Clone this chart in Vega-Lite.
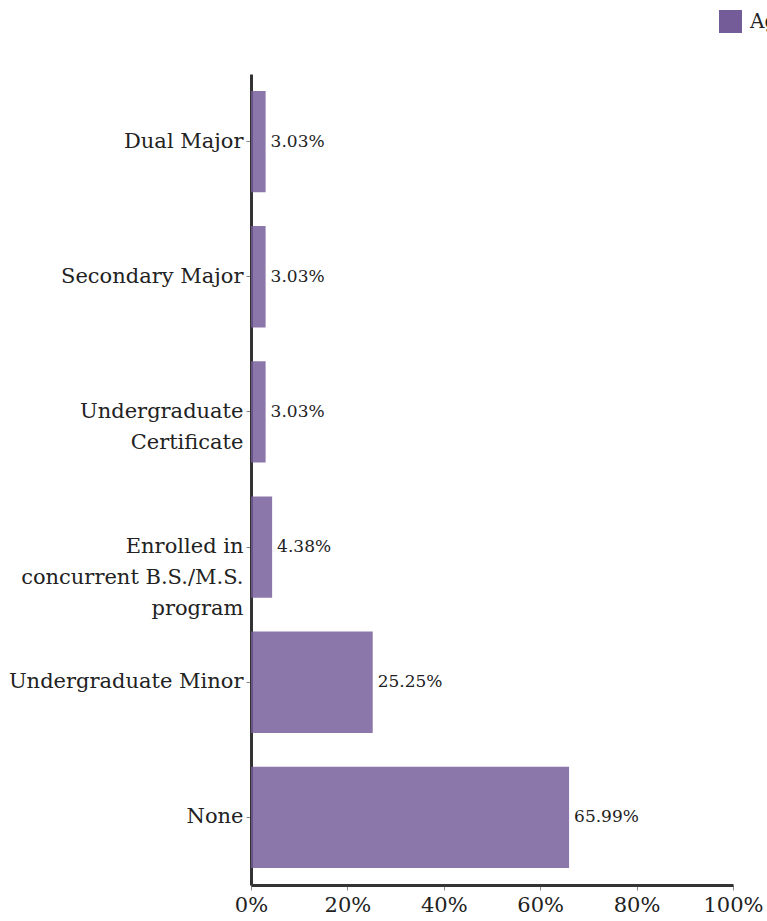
{
  "$schema": "https://vega.github.io/schema/vega-lite/v6.json",
  "width": 482,
  "height": 811,
  "autosize": {"type": "pad"},
  "padding": {"left": 8, "top": 10, "right": 0, "bottom": 0},
  "background": "white",
  "config": {"view": {"stroke": null}, "font": "DejaVu Serif"},
  "data": {
    "values": [
      {"category": "Dual Major", "share": 0.0303, "series": "Aggregate"},
      {"category": "Secondary Major", "share": 0.0303, "series": "Aggregate"},
      {"category": "Undergraduate Certificate", "share": 0.0303, "series": "Aggregate"},
      {"category": "Enrolled in concurrent B.S./M.S. program", "share": 0.0438, "series": "Aggregate"},
      {"category": "Undergraduate Minor", "share": 0.2525, "series": "Aggregate"},
      {"category": "None", "share": 0.6599, "series": "Aggregate"}
    ]
  },
  "encoding": {
    "y": {
      "field": "category",
      "type": "nominal",
      "sort": null,
      "scale": {"paddingInner": 0.25, "paddingOuter": 0.125},
      "axis": {
        "title": null,
        "labelFont": "DejaVu Serif",
        "labelFontSize": 21,
        "labelColor": "#222222",
        "labelLimit": 400,
        "labelPadding": 3,
        "labelLineHeight": 31,
        "tickSize": 5,
        "tickColor": "#888888",
        "domainColor": "#333333",
        "domainWidth": 3,
        "labelExpr": "datum.label == 'Undergraduate Certificate' ? ['Undergraduate', 'Certificate'] : datum.label == 'Enrolled in concurrent B.S./M.S. program' ? ['Enrolled in', 'concurrent B.S./M.S.', 'program'] : datum.label"
      }
    },
    "x": {
      "field": "share",
      "type": "quantitative",
      "scale": {"domain": [0, 1], "nice": false},
      "axis": {
        "title": null,
        "format": "%",
        "values": [0, 0.2, 0.4, 0.6, 0.8, 1],
        "grid": false,
        "labelFlush": false,
        "labelFont": "DejaVu Serif",
        "labelFontSize": 21,
        "labelColor": "#222222",
        "labelPadding": 4,
        "tickSize": 5,
        "tickColor": "#888888",
        "domainColor": "#333333",
        "domainWidth": 3
      }
    }
  },
  "layer": [
    {
      "mark": {"type": "bar", "opacity": 0.83},
      "encoding": {
        "color": {
          "field": "series",
          "type": "nominal",
          "scale": {"range": ["#735c98"]},
          "legend": {
            "title": null,
            "orient": "none",
            "legendX": 468,
            "legendY": -64,
            "symbolType": "square",
            "symbolSize": 529,
            "symbolOpacity": 1,
            "symbolStrokeWidth": 0,
            "labelFont": "DejaVu Serif",
            "labelFontSize": 20,
            "labelColor": "#222222",
            "labelOffset": 8
          }
        }
      }
    },
    {
      "mark": {
        "type": "text",
        "align": "left",
        "baseline": "middle",
        "dx": 5,
        "fontSize": 17,
        "font": "DejaVu Serif",
        "color": "#222222"
      },
      "encoding": {
        "text": {"field": "share", "type": "quantitative", "format": ".2%"}
      }
    }
  ]
}
